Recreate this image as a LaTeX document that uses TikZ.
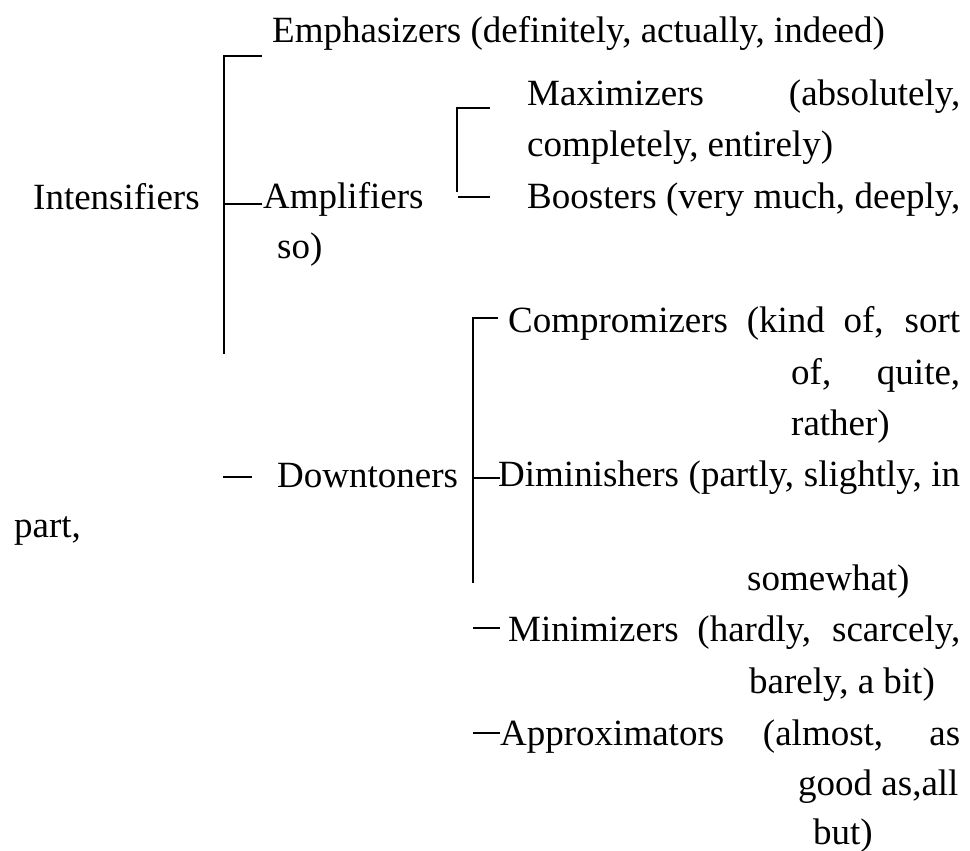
\documentclass[tikz,border=0pt]{standalone}
\usepackage{fontspec}
\setmainfont{Liberation Serif}

\newcommand{\justbox}[2]{\makebox[#1pt][s]{#2}}

\begin{document}
\begin{tikzpicture}[
    x=1pt, y=-1pt,
    txt/.style={anchor=base west, inner sep=0pt, font=\fontsize{37}{44}\selectfont},
    brk/.style={line width=1.6pt},
  ]
  \useasboundingbox (0,0) rectangle (970,851);
  % upper block
  \node[txt] (emph) at (272,43) {Emphasizers (definitely, actually, indeed)};
  \node[txt] (int) at (33,209) {Intensifiers};
  \node[txt] (amp) at (263,208) {Amplifiers};
  \node[txt] (ampso) at (277,258) {so)};
  \node[txt] (max) at (527,106) {\justbox{433}{Maximizers (absolutely,}};
  \node[txt] (maxb) at (527,157) {completely, entirely)};
  \node[txt] (boost) at (527,208) {\justbox{433}{Boosters (very much, deeply,}};
  % lower block
  \node[txt] (down) at (277,487) {Downtoners};
  \node[txt] (comp) at (508,332) {\justbox{452}{Compromizers (kind of, sort}};
  \node[txt] (compb) at (791,384) {\justbox{169}{of, quite,}};
  \node[txt] (compc) at (791,435) {rather)};
  \node[txt] (dim) at (498,486) {\justbox{462}{Diminishers (partly, slightly, in}};
  \node[txt] (dimb) at (14,537) {part,};
  \node[txt] (dimc) at (747,590) {somewhat)};
  \node[txt] (mini) at (508,641) {\justbox{452}{Minimizers (hardly, scarcely,}};
  \node[txt] (minib) at (749,693) {barely, a bit)};
  \node[txt] (appr) at (500,745) {\justbox{460}{Approximators (almost, as}};
  \node[txt] (apprb) at (798,795) {good as,all};
  \node[txt] (apprc) at (813,844) {but)};
  % bracket points
  \coordinate (i1) at (224,56);
  \coordinate (i2) at (224,204);
  \coordinate (i3) at (224,354);
  \coordinate (a1) at (457,108);
  \coordinate (a2) at (457,192);
  \coordinate (a3) at (458,197);
  \coordinate (d0) at (223,477);
  \coordinate (d1) at (473,318);
  \coordinate (d2) at (473,478);
  \coordinate (d3) at (473,583);
  \coordinate (d4) at (473,628);
  \coordinate (d5) at (473,733);
  \draw[brk] (i3) -- (i1) -- ++(38,0);
  \draw[brk] (i2) -- ++(38,0);
  \draw[brk] (a2) -- (a1) -- ++(33,0);
  \draw[brk] (a3) -- ++(32,0);
  \draw[brk] (d0) -- ++(29,0);
  \draw[brk] (d3) -- (d1) -- ++(25,0);
  \draw[brk] (d2) -- ++(27,0);
  \draw[brk] (d4) -- ++(27,0);
  \draw[brk] (d5) -- ++(27,0);
\end{tikzpicture}
\end{document}
